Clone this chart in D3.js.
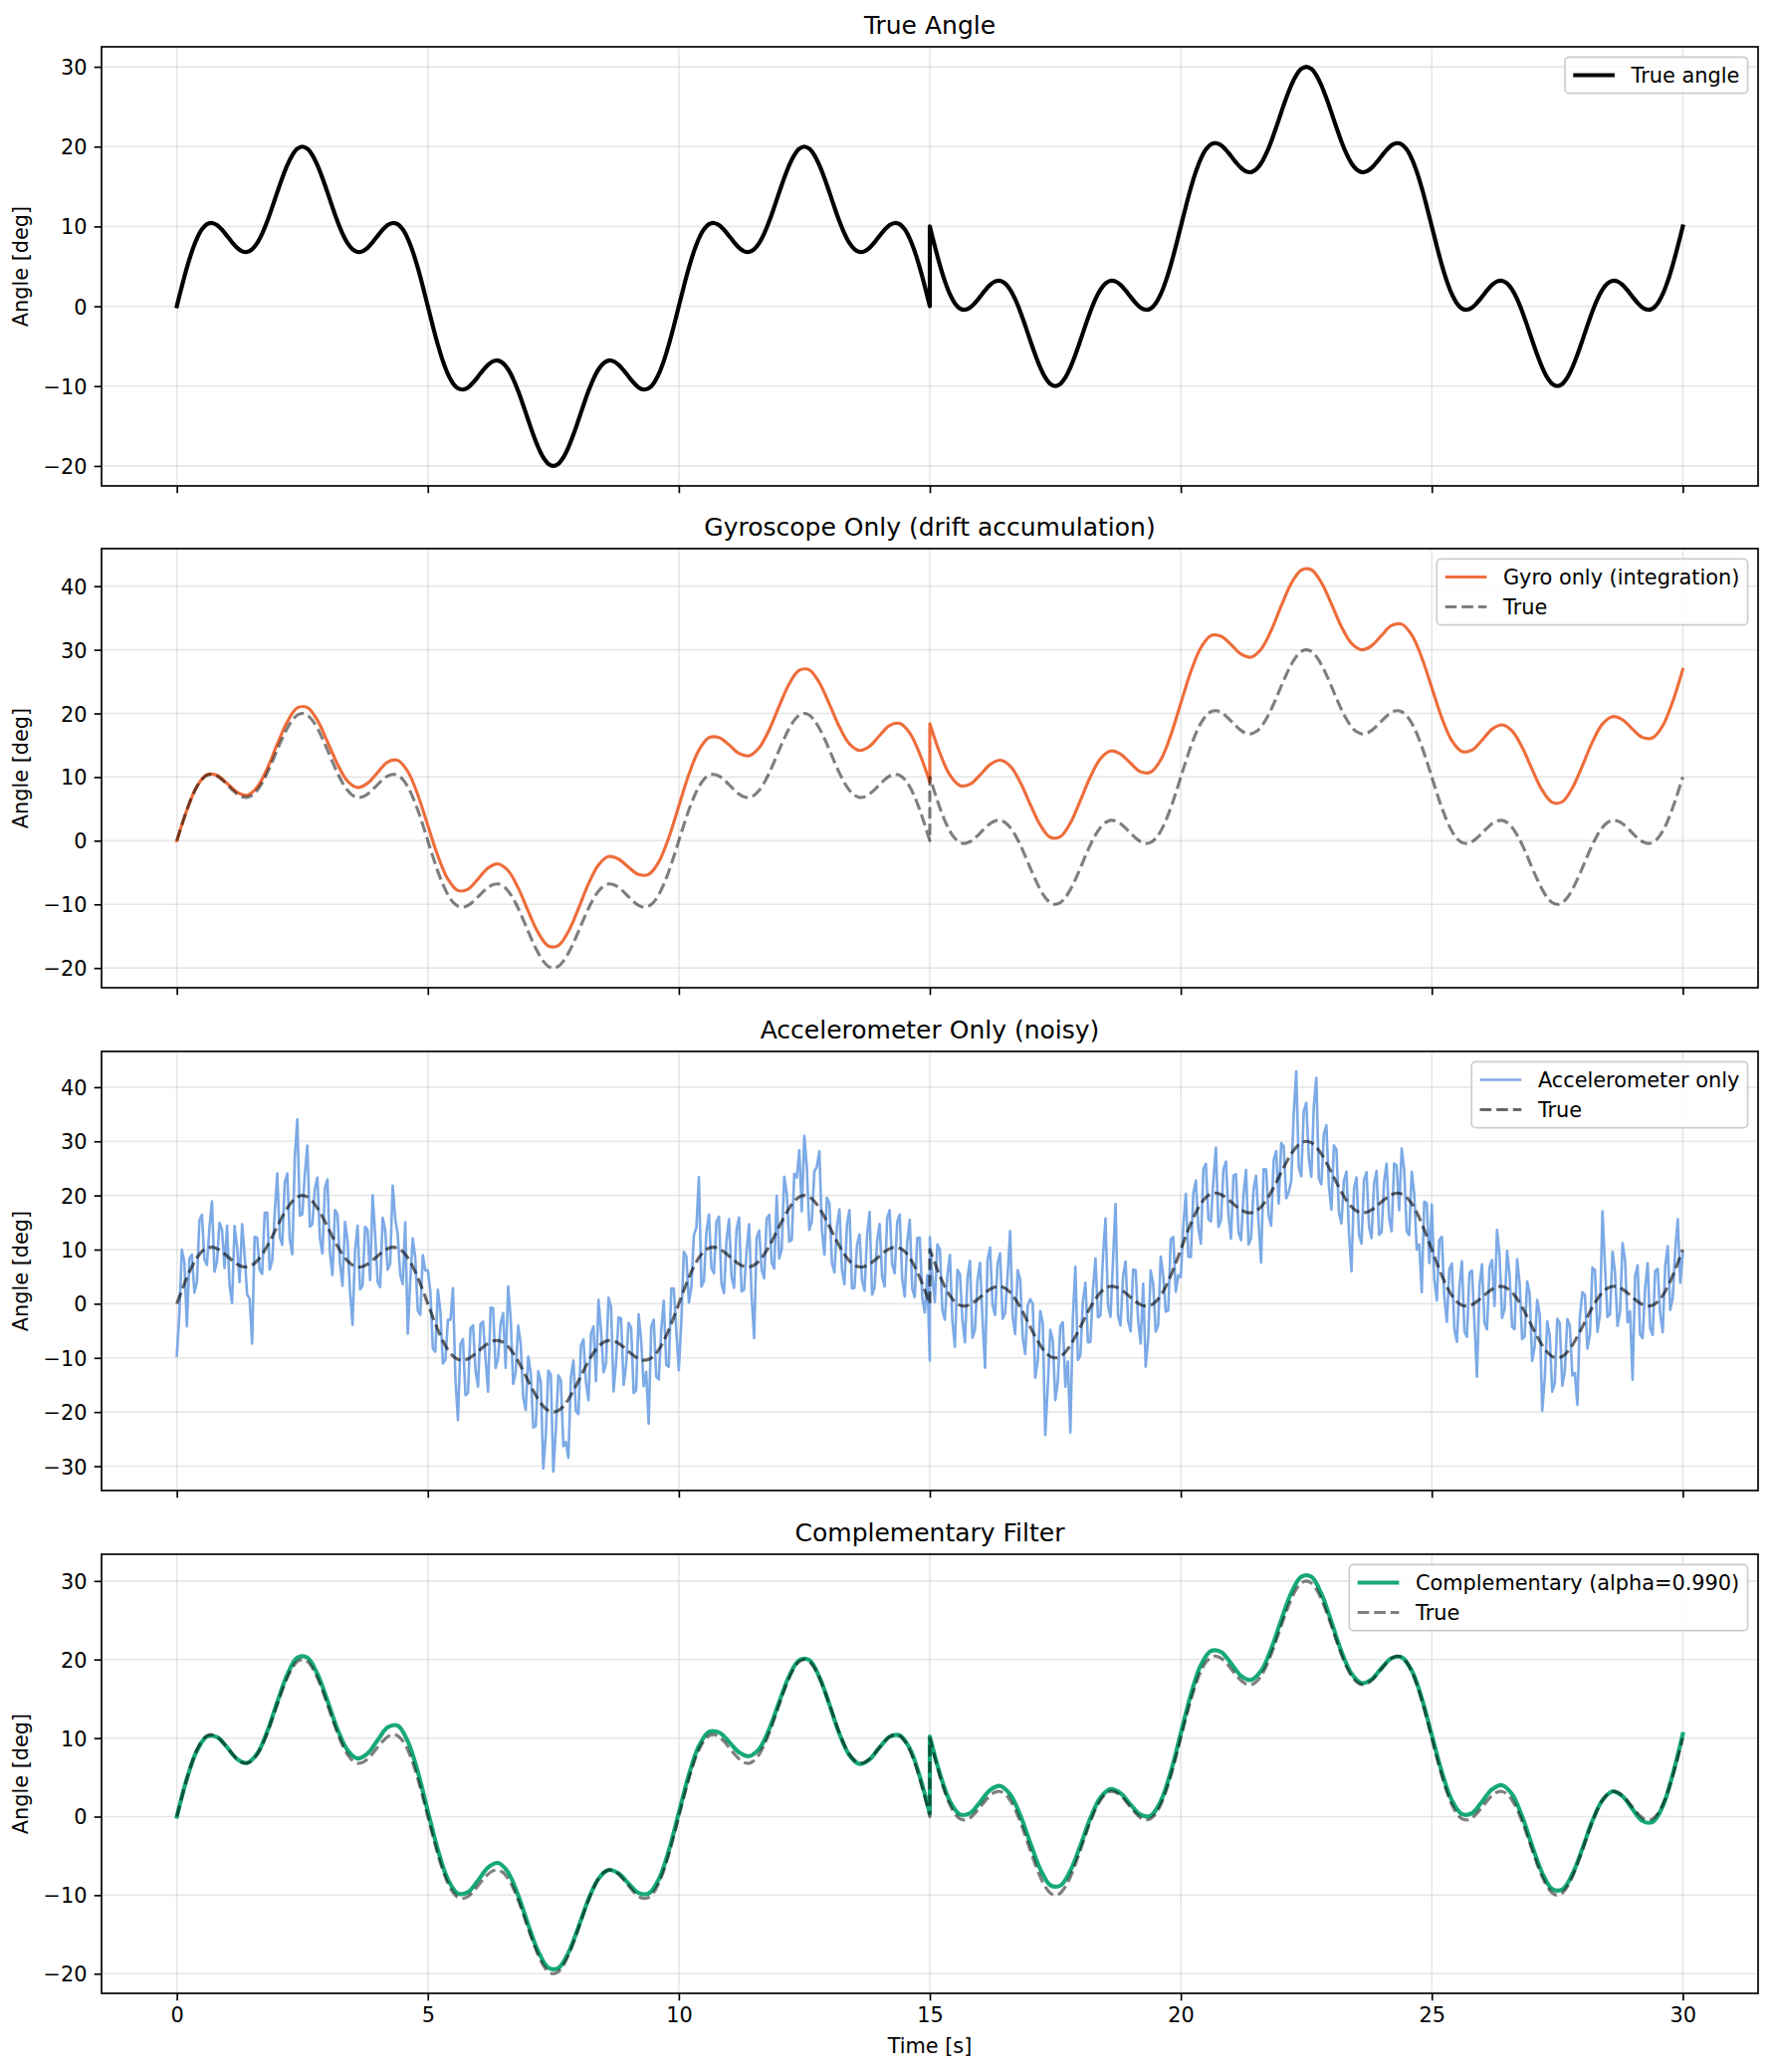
<!DOCTYPE html>
<html>
<head>
<meta charset="utf-8">
<script src="https://cdn.jsdelivr.net/npm/d3@7"></script>
<style>
  body { margin: 0; background: #fff; }
  svg { display: block; font-family: 'DejaVu Sans', sans-serif; }
</style>
</head>
<body>
<div id="chart"></div>
<script>
const width = 1784;
const height = 2081;
const margin = { left: 102, right: 18 };
const panelTops = [47, 551, 1056, 1561];
const panelHeight = 441;

// samples: 0.1 s for true, 0.05 s for accel, 0.2 s for gyro / filter; signal restarts at t = 15 s
const fineStep = 0.1;
const accelStep = 0.05;
const coarseStep = 0.2;
const jumpTime = 15;

const timeDomain = [-1.5, 31.5];
const timeTicks = [0, 5, 10, 15, 20, 25, 30];

const panelTitles = ['True Angle', 'Gyroscope Only (drift accumulation)', 'Accelerometer Only (noisy)', 'Complementary Filter'];
const yDomains = [[-22.5, 32.5], [-23.1, 45.9], [-34.5, 46.6], [-22.5, 33.4]];
const yTicks = [
    [-20, -10, 0, 10, 20, 30],
    [-20, -10, 0, 10, 20, 30, 40],
    [-30, -20, -10, 0, 10, 20, 30, 40],
    [-20, -10, 0, 10, 20, 30]
];

const trueFirst = [
    0, 2.49, 4.82, 6.86, 8.49, 9.64, 10.28, 10.43, 10.17, 9.58, 8.82, 8.02, 7.33, 6.89, 6.80, 7.14, 7.91, 9.10, 10.63, 12.40,
    14.27, 16.07, 17.67, 18.93, 19.73, 20, 19.73, 18.93, 17.67, 16.07, 14.27, 12.40, 10.63, 9.10, 7.91, 7.14, 6.80, 6.89, 7.33, 8.02,
    8.82, 9.58, 10.17, 10.43, 10.28, 9.64, 8.49, 6.86, 4.82, 2.49, 0,
    -2.49, -4.82, -6.86, -8.49, -9.64, -10.28, -10.43, -10.17, -9.58, -8.82, -8.02, -7.33, -6.89, -6.80, -7.14, -7.91, -9.10, -10.63, -12.40,
    -14.27, -16.07, -17.67, -18.93, -19.73, -20, -19.73, -18.93, -17.67, -16.07, -14.27, -12.40, -10.63, -9.10, -7.91, -7.14, -6.80, -6.89, -7.33, -8.02,
    -8.82, -9.58, -10.17, -10.43, -10.28, -9.64, -8.49, -6.86, -4.82, -2.49, 0,
    2.49, 4.82, 6.86, 8.49, 9.64, 10.28, 10.43, 10.17, 9.58, 8.82, 8.02, 7.33, 6.89, 6.80, 7.14, 7.91, 9.10, 10.63, 12.40,
    14.27, 16.07, 17.67, 18.93, 19.73, 20, 19.73, 18.93, 17.67, 16.07, 14.27, 12.40, 10.63, 9.10, 7.91, 7.14, 6.80, 6.89, 7.33, 8.02,
    8.82, 9.58, 10.17, 10.43, 10.28, 9.64, 8.49, 6.86, 4.82, 2.49, 0
];
const trueSecond = [
    10, 7.51, 5.18, 3.14, 1.51, 0.36, -0.28, -0.43, -0.17, 0.42, 1.18, 1.98, 2.67, 3.11, 3.20, 2.86, 2.09, 0.90, -0.63, -2.40,
    -4.27, -6.07, -7.67, -8.93, -9.73, -10, -9.73, -8.93, -7.67, -6.07, -4.27, -2.40, -0.63, 0.90, 2.09, 2.86, 3.20, 3.11, 2.67, 1.98,
    1.18, 0.42, -0.17, -0.43, -0.28, 0.36, 1.51, 3.14, 5.18, 7.51, 10,
    12.49, 14.82, 16.86, 18.49, 19.64, 20.28, 20.43, 20.17, 19.58, 18.82, 18.02, 17.33, 16.89, 16.80, 17.14, 17.91, 19.10, 20.63, 22.40,
    24.27, 26.07, 27.67, 28.93, 29.73, 30, 29.73, 28.93, 27.67, 26.07, 24.27, 22.40, 20.63, 19.10, 17.91, 17.14, 16.80, 16.89, 17.33, 18.02,
    18.82, 19.58, 20.17, 20.43, 20.28, 19.64, 18.49, 16.86, 14.82, 12.49, 10,
    7.51, 5.18, 3.14, 1.51, 0.36, -0.28, -0.43, -0.17, 0.42, 1.18, 1.98, 2.67, 3.11, 3.20, 2.86, 2.09, 0.90, -0.63, -2.40,
    -4.27, -6.07, -7.67, -8.93, -9.73, -10, -9.73, -8.93, -7.67, -6.07, -4.27, -2.40, -0.63, 0.90, 2.09, 2.86, 3.20, 3.11, 2.67, 1.98,
    1.18, 0.42, -0.17, -0.43, -0.28, 0.36, 1.51, 3.14, 5.18, 7.51, 10
];

const gyroFirst = [
    0, 4.82, 8.54, 10.38, 10.27, 9.02, 7.63, 7.15, 8.41, 11.33, 15.17, 18.67, 20.88, 20.93, 18.92, 15.57, 12.03, 9.36, 8.35, 9.03,
    10.72, 12.37, 12.63, 10.89, 7.22, 2.4,
    -2.37, -6.04, -7.83, -7.62, -6.02, -4.28, -3.65, -4.71, -7.43, -11.07, -14.47, -16.53, -16.48, -14.27, -10.67, -6.78, -3.81, -2.5, -2.88, -4.17,
    -5.32, -5.28, -3.34, 0.48, 5.45,
    10.42, 14.24, 16.18, 16.22, 15.07, 13.73, 13.35, 14.61, 17.43, 21.17, 24.67, 26.78, 26.83, 24.82, 21.47, 17.88, 15.21, 14.18, 14.83, 16.52,
    18.12, 18.43, 16.94, 13.62, 9.2
];
const gyroSecond = [
    18.4, 13.78, 10.31, 8.67, 8.88, 10.33, 11.97, 12.65, 11.74, 9.22, 5.73, 2.48, 0.52, 0.62, 2.78, 6.33, 10.07, 12.89, 14.1, 13.62,
    12.18, 10.83, 10.77, 12.71, 16.58, 21.6,
    26.57, 30.34, 32.23, 32.12, 30.82, 29.33, 28.85, 30.11, 33.03, 36.87, 40.42, 42.53, 42.58, 40.57, 37.22, 33.63, 31.01, 30.0, 30.63, 32.27,
    33.82, 34.03, 32.34, 28.77, 24.05,
    19.28, 15.71, 14.02, 14.23, 15.78, 17.52, 18.2, 17.24, 14.67, 11.18, 7.93, 6.02, 6.12, 8.28, 11.78, 15.52, 18.34, 19.5, 19.02, 17.53,
    16.23, 16.17, 18.06, 21.88, 26.9
];

const accelFirst = [
    -9.6, -1.95, 9.99, 7.76, -4.18, 8.34, 9.06, 2.08, 3.99, 15.37, 16.44, 8.16, 7.18, 14.06, 18.93, 5.90, 7.77, 14.98, 13.68, 6.60,
    14.42, 3.52, 0.12, 14.38, 10.53, 4.01, 14.69, 9.05, 1.70, 0.97, -7.36, 12.33, 12.21, 6.21, 5.50, 16.77, 16.83, 6.32, 8.00, 16.74,
    24.07, 12.37, 10.87, 22.37, 24.07, 11.90, 9.13, 27.13, 34.03, 16.27, 16.50, 24.07, 29.23, 14.23, 14.73, 21.30, 23.27, 12.17, 9.27, 21.37,
    22.97, 9.44, 5.30, 17.32, 16.53, 7.47, 3.30, 15.11, 11.71, 2.23, -3.86, 9.67, 14.40, 2.65, 3.39, 14.21, 13.63, 4.38, 20.02, 12.92,
    4.02, 3.10, 15.88, 13.68, 6.27, 7.40, 21.83, 15.76, 12.78, 5.36, 3.64, 15.07, -5.51, 4.28, 12.06, 8.44, -1.28, -2.04, 8.99, 6.15,
    6.2, 2.35, -8.29, -8.86, 2.58, -1.44, -11.06, -10.38, -2.99, -2.97, 2.86, -13.96, -21.48, -7.46, -6.53, -16.90, -16.47, -4.58, -3.98, -12.30,
    -15.32, -3.72, -3.32, -10.18, -16.23, -0.71, -0.79, -11.85, -10.00, -3.77, -1.74, -11.83, 3.19, -2.61, -14.80, -12.67, -4.03, -7.42, -17.30, -19.64,
    -9.77, -12.77, -22.87, -22.57, -12.47, -14.50, -30.43, -24.23, -12.33, -13.07, -31.00, -23.37, -13.23, -14.13, -26.33, -25.50, -28.47, -13.57, -10.47, -19.77,
    -20.37, -7.74, -6.60, -14.52, -17.83, -5.57, -4.20, -14.31, 0.69, -4.93, -12.64, -11.07, 1.10, -0.65, -16.19, -10.81, -2.53, -2.68, -15.02, -11.32,
    -3.52, -4.40, -16.48, -15.98, -1.97, -6.80, -15.23, -12.56, -22.18, -4.26, -2.94, -13.47, -13.99, -4.88, 0.54, -11.34, -11.62, 2.84, 2.81, -5.05,
    -12.30, -3.25, 9.59, 8.76, 0.22, 3.14, 12.66, 14.08, 23.39, 3.17, 4.24, 13.26, 16.48, 6.56, 5.63, 15.20, 16.07, 3.68, 1.98, 11.70,
    15.62, 5.02, 2.92, 13.68, 15.93, 2.31, 2.59, 9.75, 14.70, 1.47, -6.36, 12.13, 13.51, 6.31, 4.70, 15.67, 16.43, 7.62, 6.50, 19.94,
    8.37, 10.07, 23.47, 20.47, 11.47, 11.80, 24.03, 23.33, 28.33, 17.07, 31.00, 25.17, 13.63, 15.23, 24.43, 25.30, 28.17, 13.67, 9.07, 19.57,
    18.57, 7.64, 5.80, 14.32, 17.43, 6.27, 3.60, 14.71, 17.31, 2.83, 2.94, 10.87, 12.80, 4.35, 2.39, 12.61, 16.93, 1.68, 3.02, 11.52,
    14.72, 5.00, 3.18, 15.78, 17.27, 7.30, 5.63, 15.06, 16.48, 4.56, 1.34, 11.37, 15.49, 2.78, 1.26, 12.14, 12.22, 1.06, -1.61, 5.25,
    -10.5
];
const accelSecond = [
    12.30, 4.95, 0.31, 10.94, 10.08, -1.14, -2.96, 5.22, 9.01, -3.17, -7.94, 6.24, 5.52, -2.96, -7.13, 4.70, 7.93, -6.28, -4.78, 4.30,
    7.58, -2.82, -11.82, 8.02, 10.37, -0.21, -2.09, 7.35, 9.30, -2.77, -1.74, 5.17, 13.39, -2.41, -5.60, 6.23, 4.57, -6.12, -9.30, -0.34,
    0.83, 0.03, -13.67, -10.47, -1.37, -3.50, -24.23, -15.33, -4.83, -6.77, -17.80, -14.37, -4.13, -3.43, -15.33, -10.70, -23.77, -2.47, 6.83, -10.37,
    -9.47, 0.46, 3.90, -7.12, -7.03, 2.63, 8.40, -2.51, -2.21, 8.77, 15.76, -0.27, -2.40, 8.05, 18.41, -2.21, -4.03, 5.12, 7.78, -3.12,
    -5.12, 6.30, 6.22, -3.08, -7.37, 3.70, -11.63, -6.56, 6.12, 3.64, -5.14, -3.87, 8.71, 5.22, -1.46, -1.24, 11.88, 12.34, 2.21, 5.25,
    4.90, 14.45, 20.29, 8.66, 8.62, 20.44, 22.76, 13.98, 11.09, 24.87, 25.84, 15.66, 15.18, 22.96, 28.83, 14.20, 15.37, 24.78, 26.28, 16.40,
    12.02, 23.72, 23.92, 13.18, 11.73, 20.21, 24.69, 10.95, 12.10, 21.17, 23.64, 14.83, 7.61, 24.91, 24.80, 16.27, 14.43, 26.52, 28.20, 18.54,
    29.67, 29.07, 19.47, 20.57, 22.67, 35.10, 42.93, 25.23, 23.53, 35.57, 37.10, 26.87, 23.43, 36.53, 41.73, 23.10, 22.07, 31.27, 32.97, 21.77,
    17.37, 29.24, 28.50, 16.92, 14.83, 22.67, 24.40, 13.21, 6.01, 21.23, 23.34, 12.77, 11.10, 22.95, 24.29, 14.21, 12.13, 22.18, 24.52, 12.72,
    13.22, 22.50, 25.88, 15.88, 13.37, 25.90, 25.53, 17.26, 28.68, 24.76, 13.44, 12.67, 24.39, 20.38, 9.96, 10.94, 2.12, 18.86, 18.59, 7.55,
    18.30, 4.45, 0.61, 11.74, 12.38, 1.26, -3.36, 6.42, 7.41, -4.67, -7.04, 3.24, 7.82, -5.06, -6.13, 5.70, 6.13, -3.28, -13.48, 3.40,
    7.28, -3.52, -4.72, 6.72, 8.07, -0.41, 13.61, 8.95, -2.60, -0.97, 9.76, 5.37, -4.31, -4.71, 8.20, 3.83, -6.53, -6.02, 4.10, 1.76,
    -10.57, -7.87, 0.73, -1.97, -19.77, -13.80, -3.23, -5.93, -16.23, -14.67, -2.80, -3.57, -15.13, -12.43, -2.83, -4.10, -13.27, -12.77, -18.67, -2.37,
    2.13, 1.66, -8.30, -5.72, 6.67, 6.23, -5.20, -2.01, 17.09, 7.07, -2.44, -1.97, 9.60, 5.85, -4.09, -1.51, 11.17, 8.02, -3.42, -1.42,
    -14.02, 5.10, 7.12, -5.68, -6.37, 2.90, 7.47, -4.46, -5.78, 6.04, 6.46, -1.87, -5.29, 7.02, 10.64, -1.14, 1.08, 9.94, 15.61, 3.85,
    9.3
];

const compFirst = [
    0, 4.82, 8.39, 10.18, 10.12, 8.82, 7.33, 6.85, 8.01, 10.83, 14.57, 18.07, 20.23, 20.23, 18.17, 14.77, 11.13, 8.46, 7.40, 8.03,
    9.72, 11.37, 11.58, 9.59, 5.72, 0.7,
    -4.22, -7.99, -9.78, -9.62, -8.12, -6.48, -5.90, -7.11, -10.03, -13.77, -17.17, -19.23, -19.28, -17.32, -14.07, -10.53, -7.91, -6.80, -7.23, -8.52,
    -9.72, -9.78, -7.99, -4.32, 0.5,
    5.32, 8.99, 10.78, 10.72, 9.52, 8.18, 7.70, 8.61, 11.13, 14.62, 17.92, 19.93, 19.93, 17.77, 14.27, 10.53, 7.81, 6.70, 7.28, 8.82,
    10.17, 10.33, 8.69, 5.12, 0.4
];
const compSecond = [
    10.2, 5.48, 1.96, 0.27, 0.43, 1.83, 3.37, 3.90, 2.84, 0.22, -3.32, -6.67, -8.73, -8.78, -6.87, -3.67, -0.18, 2.44, 3.50, 2.97,
    1.53, 0.23, 0.12, 1.96, 5.68, 10.6,
    15.52, 19.29, 21.08, 20.97, 19.52, 17.93, 17.40, 18.56, 21.33, 25.02, 28.47, 30.53, 30.53, 28.37, 24.82, 21.03, 18.21, 17.00, 17.48, 18.92,
    20.17, 20.28, 18.59, 15.07, 10.4,
    5.68, 2.06, 0.32, 0.43, 1.88, 3.47, 4.00, 2.84, 0.02, -3.72, -7.17, -9.23, -9.28, -7.32, -4.07, -0.53, 2.09, 3.20, 2.57, 0.93,
    -0.57, -0.68, 1.31, 5.38, 10.5
];

const alpha = 0.990;

// line styles (matplotlib at 150 dpi: 1pt = 2.083px)
const dashed = '11.6,5';
const trueRef = { label: 'True', first: trueFirst, second: trueSecond, step: fineStep, color: '#000', width: 3.125, opacity: 0.5, dash: dashed, smooth: true };

const panels = [
    [{ label: 'True angle', first: trueFirst, second: trueSecond, step: fineStep, color: '#000', width: 4.17, opacity: 1, smooth: true }],
    [{ label: 'Gyro only (integration)', first: gyroFirst, second: gyroSecond, step: coarseStep, color: '#ee6d3b', width: 3.125, opacity: 1, smooth: true }, trueRef],
    [{ label: 'Accelerometer only', first: accelFirst, second: accelSecond, step: accelStep, color: '#7caae6', width: 2.6, opacity: 1, smooth: false },
        Object.assign({}, trueRef, { opacity: 0.6 })],
    [{ label: 'Complementary (alpha=' + alpha.toFixed(3) + ')', first: compFirst, second: compSecond, step: coarseStep, color: '#17a978', width: 4.17, opacity: 1, smooth: true }, trueRef]
];

const fontSize = 20.83;
const plotWidth = width - margin.left - margin.right;

const svg = d3.select('#chart')
    .append('svg')
    .attr('width', width)
    .attr('height', height);

svg.append('rect').attr('width', width).attr('height', height).attr('fill', '#fff');

const xScale = d3.scaleLinear().domain(timeDomain).range([0, plotWidth]);

function seriesPath(s, yScale) {
    const line = d3.line()
        .x(function (d) { return xScale(d.t); })
        .y(function (d) { return yScale(d.v); })
        .curve(s.smooth ? d3.curveCatmullRom : d3.curveLinear);
    const a = s.first.map(function (v, i) { return { t: i * s.step, v: v }; });
    const b = s.second.map(function (v, i) { return { t: jumpTime + i * s.step, v: v }; });
    return line(a) + line(b).replace(/^M/, 'L');
}

panels.forEach(function (series, p) {
    const g = svg.append('g')
        .attr('transform', 'translate(' + margin.left + ',' + panelTops[p] + ')');

    const yScale = d3.scaleLinear().domain(yDomains[p]).range([panelHeight, 0]);

    g.append('clipPath').attr('id', 'clip' + p)
        .append('rect').attr('width', plotWidth).attr('height', panelHeight);

    // grid
    g.selectAll('.vgrid').data(timeTicks).enter().append('line')
        .attr('x1', function (d) { return xScale(d); })
        .attr('x2', function (d) { return xScale(d); })
        .attr('y1', 0).attr('y2', panelHeight)
        .attr('stroke', '#b0b0b0').attr('stroke-opacity', 0.3).attr('stroke-width', 1.67);
    g.selectAll('.hgrid').data(yTicks[p]).enter().append('line')
        .attr('x1', 0).attr('x2', plotWidth)
        .attr('y1', function (d) { return yScale(d); })
        .attr('y2', function (d) { return yScale(d); })
        .attr('stroke', '#b0b0b0').attr('stroke-opacity', 0.3).attr('stroke-width', 1.67);

    const lines = g.append('g').attr('clip-path', 'url(#clip' + p + ')');
    series.forEach(function (s) {
        lines.append('path')
            .attr('d', seriesPath(s, yScale))
            .attr('fill', 'none')
            .attr('stroke', s.color)
            .attr('stroke-width', s.width)
            .attr('stroke-opacity', s.opacity)
            .attr('stroke-dasharray', s.dash || null)
            .attr('stroke-linejoin', 'round')
            .attr('stroke-linecap', s.dash ? 'butt' : 'square');
    });

    // axes
    const yAxis = d3.axisLeft(yScale).tickValues(yTicks[p]).tickSize(7.3).tickPadding(7.3).tickSizeOuter(0);
    const yAxisG = g.append('g').call(yAxis);
    const xAxis = d3.axisBottom(xScale).tickValues(timeTicks).tickSize(7.3).tickPadding(7.3).tickSizeOuter(0);
    const xAxisG = g.append('g').attr('transform', 'translate(0,' + panelHeight + ')').call(xAxis);
    [yAxisG, xAxisG].forEach(function (a) {
        a.select('.domain').remove();
        a.selectAll('line').attr('stroke', '#000').attr('stroke-width', 1.67);
        a.selectAll('text').attr('fill', '#000').style('font-size', fontSize + 'px').style('font-family', 'DejaVu Sans');
    });
    yAxisG.selectAll('text').attr('dy', '0.36em');
    if (p < panels.length - 1) xAxisG.selectAll('text').remove();

    // spines
    g.append('rect')
        .attr('width', plotWidth).attr('height', panelHeight)
        .attr('fill', 'none').attr('stroke', '#000').attr('stroke-width', 1.67);

    // title and y label
    g.append('text')
        .attr('x', plotWidth / 2).attr('y', -13)
        .attr('text-anchor', 'middle')
        .style('font-size', '25px')
        .text(panelTitles[p]);
    g.append('text')
        .attr('transform', 'translate(' + (28 - margin.left) + ',' + (panelHeight / 2) + ') rotate(-90)')
        .attr('text-anchor', 'middle')
        .style('font-size', fontSize + 'px')
        .text('Angle [deg]');

    // legend
    const pad = 8.33, handleLen = 41.67, textPad = 16.67, rowH = 19.6, rowGap = 10.4;
    const lg = g.append('g');
    const box = lg.append('rect');
    let maxText = 0;
    series.forEach(function (s, i) {
        const cy = pad + rowH / 2 + i * (rowH + rowGap);
        lg.append('line')
            .attr('x1', pad).attr('x2', pad + handleLen)
            .attr('y1', cy).attr('y2', cy)
            .attr('stroke', s.color).attr('stroke-width', s.width)
            .attr('stroke-opacity', s.opacity)
            .attr('stroke-dasharray', s.dash || null);
        const t = lg.append('text')
            .attr('x', pad + handleLen + textPad).attr('y', cy + 7.4)
            .style('font-size', fontSize + 'px')
            .text(s.label);
        maxText = Math.max(maxText, t.node().getComputedTextLength());
    });
    const boxW = pad * 2 + handleLen + textPad + maxText;
    const boxH = pad * 2 + series.length * rowH + (series.length - 1) * rowGap;
    box.attr('width', boxW).attr('height', boxH)
        .attr('rx', 4.2).attr('ry', 4.2)
        .attr('fill', '#fff').attr('fill-opacity', 0.8)
        .attr('stroke', '#cccccc').attr('stroke-width', 1.67);
    lg.attr('transform', 'translate(' + (plotWidth - 10.4 - boxW) + ',' + 10.4 + ')');
});

svg.append('text')
    .attr('x', margin.left + plotWidth / 2)
    .attr('y', 2062)
    .attr('text-anchor', 'middle')
    .style('font-size', fontSize + 'px')
    .text('Time [s]');
</script>
</body>
</html>
